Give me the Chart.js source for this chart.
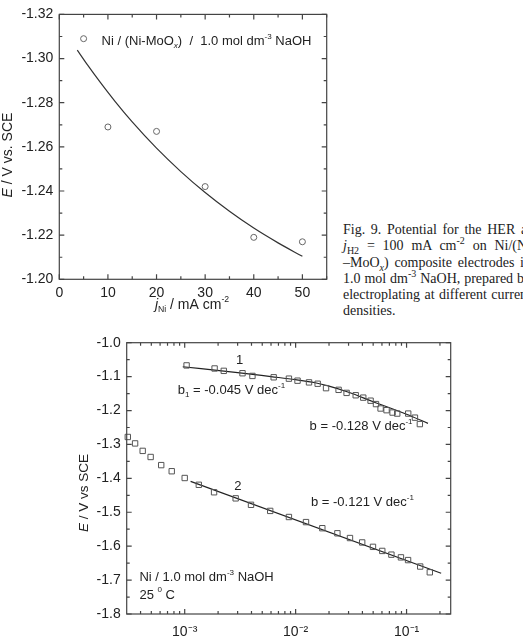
<!DOCTYPE html>
<html lang="en">
<head>
<meta charset="UTF-8">
<title>Fig. 9 - HER potential on Ni/(Ni-MoOx)</title>
<script src="https://cdn.jsdelivr.net/npm/chart.js"></script>
<style>
  html, body { margin: 0; padding: 0; background: #fff; overflow: hidden; }
  body { width: 523px; height: 640px; position: relative; }
  canvas { position: absolute; left: 0; }
  #c1 { top: 0; }
  #c2 { top: 320px; }
  #caption {
    position: absolute; left: 343px; top: 222px; width: 188px;
    font-family: "Liberation Serif", "Times New Roman", serif;
    font-size: 14px; line-height: 16.3px; color: #222;
  }
  #caption div { text-align: justify; text-align-last: justify; }
  #caption div.last { text-align-last: left; }
  #caption sub, #caption sup { font-size: 10px; line-height: 0; }
</style>
</head>
<body>
<canvas id="c1" width="340" height="320"></canvas>
<canvas id="c2" width="523" height="320"></canvas>
<div id="caption">
  <div>Fig. 9. Potential for the HER at</div>
  <div><i>j</i><sub>H2</sub> = 100 mA cm<sup>-2</sup> on Ni/(Ni</div>
  <div>–MoO<sub><i>x</i></sub>) composite electrodes in</div>
  <div>1.0 mol dm<sup>-3</sup> NaOH, prepared by</div>
  <div>electroplating at different current</div>
  <div class="last">densities.</div>
</div>
<script>
// upper panel: E at 100 mA cm-2 vs. deposition current density
const jNi = [5, 10, 20, 30, 40, 50];
const eNi = [-1.309, -1.269, -1.267, -1.242, -1.219, -1.217];
const fitJ = [3.7, 5.8, 8.4, 11.5, 15, 20, 25, 30, 35, 40, 45, 50];
const fitE = [-1.3038, -1.2971, -1.2893, -1.2805, -1.2713, -1.2594, -1.2488, -1.2393, -1.2308, -1.2232, -1.2165, -1.2104];

// lower panel: Tafel plots (curve 1 and curve 2)
const j1 = [1.04e-3, 1.86e-3, 2.25e-3, 3.32e-3, 4.08e-3, 6.34e-3, 8.7e-3, 1.04e-2, 1.32e-2, 1.58e-2, 1.88e-2, 2.44e-2,
            2.88e-2, 3.48e-2, 4.07e-2, 4.74e-2, 5.3e-2, 5.83e-2, 6.6e-2, 7.48e-2, 8.24e-2, 0.1035, 0.119, 0.1318];
const e1 = [-1.067, -1.076, -1.083, -1.090, -1.098, -1.102, -1.106, -1.112, -1.117, -1.121, -1.134, -1.139,
            -1.148, -1.155, -1.162, -1.171, -1.181, -1.194, -1.199, -1.206, -1.209, -1.209, -1.221, -1.240];
const fit1J = [9.6e-4, 3e-3, 6e-3, 1e-2, 1.5e-2, 2e-2, 3e-2, 5e-2, 0.1, 0.156];
const fit1E = [-1.071, -1.088, -1.100, -1.109, -1.118, -1.128, -1.146, -1.174, -1.211, -1.238];

const j2 = [3.07e-4, 3.57e-4, 4.18e-4, 4.93e-4, 6.14e-4, 7.64e-4, 1.0e-3, 1.34e-3, 1.84e-3, 2.88e-3, 3.96e-3, 5.9e-3,
            8.7e-3, 1.24e-2, 1.74e-2, 2.38e-2, 3.09e-2, 3.98e-2, 4.98e-2, 6.04e-2, 7.3e-2, 8.9e-2, 0.1032, 0.1327, 0.162];
const e2 = [-1.278, -1.297, -1.319, -1.337, -1.361, -1.379, -1.399, -1.419, -1.441, -1.459, -1.478, -1.496,
            -1.514, -1.529, -1.547, -1.562, -1.576, -1.589, -1.602, -1.614, -1.625, -1.633, -1.641, -1.660, -1.677];
const fit2J = [1.13e-3, 0.205];
const fit2E = [-1.409, -1.680];

const logTickValues = [0.001, 0.01, 0.1];
const logTickLabels = ['10⁻³', '10⁻²', '10⁻¹'];

const toXY = (xs, ys) => xs.map((x, i) => ({ x: x, y: ys[i] }));
const FONT = '"Liberation Sans", Arial, sans-serif';
Chart.defaults.font.family = FONT;
Chart.defaults.color = '#222';

// draws text pieces with italic / sub / sup parts
function richText(ctx, parts, x, y, size, align) {
  const fontOf = (p) => {
    const small = p[1] === 'sub' || p[1] === 'sup';
    const italic = p[1] === 'i' || p[2] === 'i';
    return (italic ? 'italic ' : '') + (small ? size * 0.62 : size) + 'px ' + FONT;
  };
  let total = 0;
  const widths = parts.map(p => { ctx.font = fontOf(p); const w = ctx.measureText(p[0]).width; total += w; return w; });
  let cx = align === 'center' ? x - total / 2 : x;
  ctx.textBaseline = 'middle';
  ctx.textAlign = 'left';
  parts.forEach((p, i) => {
    ctx.font = fontOf(p);
    const dy = p[1] === 'sub' ? size * 0.32 : p[1] === 'sup' ? -size * 0.38 : 0;
    ctx.fillText(p[0], cx, y + dy);
    cx += widths[i];
  });
}

// box around the plot + inward ticks on all four sides
const frameTicks = {
  id: 'frameTicks',
  afterDatasetsDraw(chart) {
    const { ctx, chartArea: a } = chart;
    const xs = chart.scales.x, ys = chart.scales.y;
    ctx.save();
    ctx.strokeStyle = '#444';
    ctx.lineWidth = 1.2;
    ctx.beginPath();
    xs.ticks.forEach(t => {
      const p = xs.getPixelForValue(t.value);
      if (p < a.left - 0.5 || p > a.right + 0.5) return;
      const len = t.label ? 5 : 3;
      ctx.moveTo(p, a.bottom); ctx.lineTo(p, a.bottom - len);
      ctx.moveTo(p, a.top); ctx.lineTo(p, a.top + len);
    });
    ys.ticks.forEach(t => {
      const p = ys.getPixelForValue(t.value);
      if (p < a.top - 0.5 || p > a.bottom + 0.5) return;
      const len = t.label ? 5 : 3;
      ctx.moveTo(a.left, p); ctx.lineTo(a.left + len, p);
      ctx.moveTo(a.right, p); ctx.lineTo(a.right - len, p);
    });
    ctx.stroke();
    ctx.strokeRect(a.left, a.top, a.right - a.left, a.bottom - a.top);
    ctx.restore();
  }
};

// axis titles and annotations
const notes = {
  id: 'notes',
  afterDraw(chart, args, opts) {
    const ctx = chart.ctx;
    ctx.save();
    ctx.fillStyle = '#222';
    (opts.items || []).forEach(it => {
      let x = it.px, y = it.py;
      if (it.x !== undefined) {
        x = chart.scales.x.getPixelForValue(it.x);
        y = chart.scales.y.getPixelForValue(it.y);
      }
      if (it.rotate) {
        ctx.save();
        ctx.translate(x, y);
        ctx.rotate(-Math.PI / 2);
        richText(ctx, it.parts, 0, 0, it.size, 'center');
        ctx.restore();
      } else {
        richText(ctx, it.parts, x, y, it.size, it.align || 'left');
      }
    });
    ctx.restore();
  }
};

const common = {
  responsive: false,
  animation: false,
  events: [],
  plugins: { legend: { display: false }, tooltip: { enabled: false } }
};

// ---------- upper chart ----------
new Chart(document.getElementById('c1'), {
  type: 'scatter',
  data: {
    datasets: [
      { data: toXY(jNi, eNi), pointStyle: 'circle', pointRadius: 3, borderWidth: 1,
        borderColor: '#666', backgroundColor: 'rgba(0,0,0,0)', showLine: false, clip: false },
      { data: toXY(fitJ, fitE), showLine: true, pointRadius: 0, borderColor: '#333',
        borderWidth: 1.2, cubicInterpolationMode: 'monotone', fill: false }
    ]
  },
  options: Object.assign({}, common, {
    layout: { padding: { left: 0, top: 13.3, right: 13.3, bottom: 0 } },
    scales: {
      x: {
        type: 'linear', min: 0, max: 55,
        grid: { display: false, drawTicks: false }, border: { display: false },
        ticks: { stepSize: 5, autoSkip: false, maxRotation: 0, padding: 5, font: { size: 14 },
          callback: v => (v % 10 === 0 && v <= 50) ? String(v) : '' },
        afterFit: s => { s.height = 40.7; }
      },
      y: {
        type: 'linear', min: -1.32, max: -1.20, reverse: true,
        grid: { display: false, drawTicks: false }, border: { display: false },
        ticks: { stepSize: 0.01, autoSkip: false, padding: 6, font: { size: 14 },
          callback: v => (Math.round(v * 100) % 2 === 0) ? v.toFixed(2) : '' },
        afterFit: s => { s.width = 59.3; }
      }
    },
    plugins: Object.assign({}, common.plugins, {
      notes: { items: [
        { x: 8.7, y: -1.3076, size: 13,
          parts: [['Ni / (Ni-MoO'], ['x', 'sub', 'i'], [')  /  1.0 mol dm'], ['-3', 'sup'], [' NaOH']] },
        { px: 8, py: 155, rotate: true, size: 14, parts: [['E', 'i'], [' / V vs. SCE']] },
        { px: 192, py: 305, align: 'center', size: 14, parts: [['j', 'i'], ['Ni', 'sub'], [' / mA cm'], ['-2', 'sup']] }
      ] }
    })
  }),
  plugins: [frameTicks, notes]
});

// ---------- lower chart ----------
const xMin = 3.05e-4, xMax = 0.25;
const logTicks = [];
for (let e = -4; e <= -1; e++) {
  for (let m = 1; m <= 9; m++) {
    const v = m * Math.pow(10, e);
    if (v >= xMin && v <= xMax) logTicks.push({ value: v });
  }
}

new Chart(document.getElementById('c2'), {
  type: 'scatter',
  data: {
    datasets: [
      { data: toXY(j1, e1), pointStyle: 'rect', pointRadius: 3.8, borderWidth: 1,
        borderColor: '#555', backgroundColor: 'rgba(0,0,0,0)', showLine: false, clip: false },
      { data: toXY(fit1J, fit1E), showLine: true, pointRadius: 0, borderColor: '#222',
        borderWidth: 1.2, cubicInterpolationMode: 'monotone', fill: false },
      { data: toXY(j2, e2), pointStyle: 'rect', pointRadius: 3.8, borderWidth: 1,
        borderColor: '#555', backgroundColor: 'rgba(0,0,0,0)', showLine: false, clip: false },
      { data: toXY(fit2J, fit2E), showLine: true, pointRadius: 0, borderColor: '#222',
        borderWidth: 1.2, fill: false }
    ]
  },
  options: Object.assign({}, common, {
    layout: { padding: { left: 0, top: 22.7, right: 72.3, bottom: 0 } },
    scales: {
      x: {
        type: 'logarithmic', min: xMin, max: xMax,
        grid: { display: false, drawTicks: false }, border: { display: false },
        afterBuildTicks: s => { s.ticks = logTicks.map(t => ({ value: t.value })); },
        ticks: { autoSkip: false, maxRotation: 0, padding: 10, font: { size: 14 },
          callback: v => {
            const k = logTickValues.findIndex(t => Math.abs(Math.log10(t) - Math.log10(v)) < 1e-6);
            return k >= 0 ? logTickLabels[k] : '';
          } },
        afterFit: s => { s.height = 26; }
      },
      y: {
        type: 'linear', min: -1.8, max: -1.0,
        grid: { display: false, drawTicks: false }, border: { display: false },
        ticks: { stepSize: 0.05, autoSkip: false, padding: 6, font: { size: 14 },
          callback: v => (Math.round(v * 100) % 10 === 0) ? v.toFixed(1) : '' },
        afterFit: s => { s.width = 126.7; }
      }
    },
    plugins: Object.assign({}, common.plugins, {
      notes: { items: [
        { x: 3.12e-3, y: -1.053, align: 'center', size: 13, parts: [['1']] },
        { x: 8.65e-4, y: -1.1415, size: 13, parts: [['b'], ['1', 'sub'], [' = -0.045 V dec'], ['-1', 'sup']] },
        { x: 1.337e-2, y: -1.2477, size: 13, parts: [['b = -0.128 V dec'], ['-1', 'sup']] },
        { x: 3.01e-3, y: -1.4247, align: 'center', size: 13, parts: [['2']] },
        { x: 1.375e-2, y: -1.4718, size: 13, parts: [['b = -0.121 V dec'], ['-1', 'sup']] },
        { x: 3.91e-4, y: -1.692, size: 13, parts: [['Ni / 1.0 mol dm'], ['-3', 'sup'], [' NaOH']] },
        { x: 3.91e-4, y: -1.744, size: 13, parts: [['25 '], ['0', 'sup'], [' C']] },
        { px: 84, py: 173, rotate: true, size: 13.5, parts: [['E', 'i'], [' / V vs SCE']] },
        { px: 280, py: 330, align: 'center', size: 14, parts: [['j', 'i'], [' / mA cm'], ['-2', 'sup']] }
      ] }
    })
  }),
  plugins: [frameTicks, notes]
});
</script>
</body>
</html>
